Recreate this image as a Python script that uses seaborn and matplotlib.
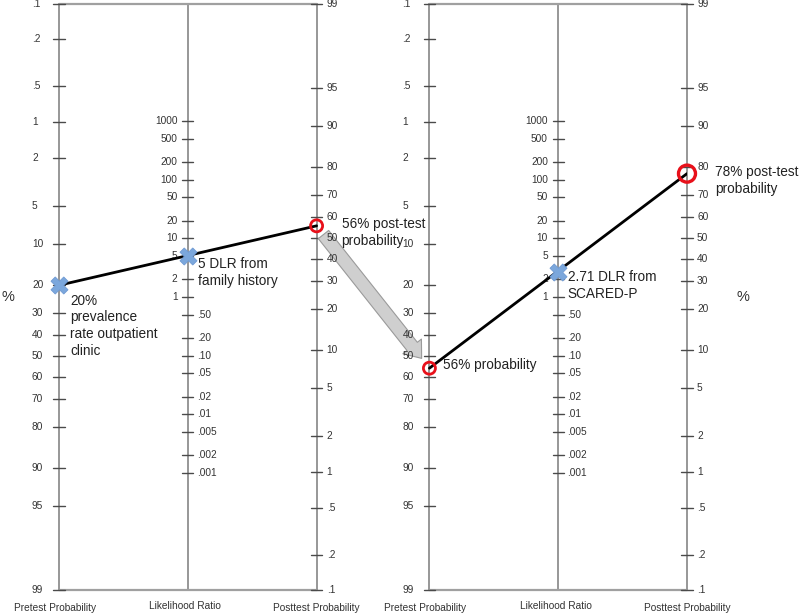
import numpy as np
import matplotlib
matplotlib.use('Agg')
import matplotlib.pyplot as plt
import seaborn as sns
from matplotlib.patches import FancyArrowPatch

# =============================================
# DATA
# =============================================
pretest_ticks = [0.1, 0.2, 0.5, 1, 2, 5, 10, 20, 30, 40, 50, 60, 70, 80, 90, 95, 99]
pretest_labels = ['.1', '.2', '.5', '1', '2', '5', '10', '20', '30', '40', '50',
                  '60', '70', '80', '90', '95', '99']
posttest_ticks = [99, 95, 90, 80, 70, 60, 50, 40, 30, 20, 10, 5, 2, 1, 0.5, 0.2, 0.1]
posttest_labels = ['99', '95', '90', '80', '70', '60', '50', '40', '30', '20', '10',
                   '5', '2', '1', '.5', '.2', '.1']
lr_ticks_hi = [1000, 500, 200, 100, 50, 20, 10, 5, 2, 1]
lr_labels_hi = ['1000', '500', '200', '100', '50', '20', '10', '5', '2', '1']
lr_ticks_lo = [0.5, 0.2, 0.1, 0.05, 0.02, 0.01, 0.005, 0.002, 0.001]
lr_labels_lo = ['.50', '.20', '.10', '.05', '.02', '.01', '.005', '.002', '.001']

# two steps of the nomogram
pretest_pct = [20, 56]
dlr = [5, 2.71]
posttest_pct = [56, 78]
pre_notes = ['20%\nprevalence\nrate outpatient\nclinic', '56% probability']
lr_notes = ['5 DLR from\nfamily history', '2.71 DLR from\nSCARED-P']
post_notes = ['56% post-test\nprobability', '78% post-test\nprobability']

# =============================================
# SCALES (Fagan nomogram)
# =============================================
def logit(p):
    return np.log(p / (1 - p))

TOP = -logit(0.001)          # pretest offset
BOT = logit(0.99)            # posttest offset
SPAN = TOP + BOT

def u_pre(pct):
    return logit(np.asarray(pct, dtype=float) / 100) + TOP

def u_post(pct):
    return BOT - logit(np.asarray(pct, dtype=float) / 100)

def u_lr(lr):
    return SPAN / 2 - np.log(np.asarray(lr, dtype=float)) / 2

# =============================================
# FIGURE
# =============================================
sns.set_style('white')
plt.rcParams['font.family'] = ['Liberation Sans', 'DejaVu Sans']

fig = plt.figure(figsize=(8, 6.16), dpi=100)
ax = fig.add_axes([0.07375, 0.0422, 0.785, 0.9513])
panel_x = [0.0, 2.876]
ax.set_xlim(0, 4.876)
ax.set_ylim(SPAN, 0)
ax.axis('off')

axis_col = '#858585'
tick_col = '#4a4a4a'
tl = 0.043
tfs = 7.3
nfs = 9.8

for k, x0 in enumerate(panel_x):
    xp, xl, xq = x0, x0 + 1, x0 + 2
    # frame
    for xx in (xp, xl, xq):
        ax.plot([xx, xx], [0, SPAN], color=axis_col, lw=1.2, clip_on=False, zorder=1)
    ax.plot([xp, xq], [0, 0], color='#a0a0a0', lw=1.6, clip_on=False, zorder=1)
    ax.plot([xp, xq], [SPAN, SPAN], color='#a0a0a0', lw=1.6, clip_on=False, zorder=1)

    # pretest scale
    for t, lab in zip(pretest_ticks, pretest_labels):
        u = u_pre(t)
        ax.plot([xp - tl, xp + tl], [u, u], color=tick_col, lw=1, clip_on=False)
        ax.text(xp - 0.21, u, lab, ha='left', va='center', fontsize=tfs, color='#333333')
    # likelihood ratio scale
    for t, lab in zip(lr_ticks_hi, lr_labels_hi):
        u = u_lr(t)
        ax.plot([xl - tl, xl + tl], [u, u], color=tick_col, lw=1)
        ax.text(xl - 0.08, u, lab, ha='right', va='center', fontsize=tfs, color='#333333')
    for t, lab in zip(lr_ticks_lo, lr_labels_lo):
        u = u_lr(t)
        ax.plot([xl - tl, xl + tl], [u, u], color=tick_col, lw=1)
        ax.text(xl + 0.07, u, lab, ha='left', va='center', fontsize=tfs, color='#333333')
    # posttest scale
    for t, lab in zip(posttest_ticks, posttest_labels):
        u = u_post(t)
        ax.plot([xq - tl, xq + tl], [u, u], color=tick_col, lw=1, clip_on=False)
        ax.text(xq + 0.078, u, lab, ha='left', va='center', fontsize=tfs, color='#333333')

    # axis titles
    ax.text(xp - 0.03, SPAN * 1.031, 'Pretest Probability', ha='center', va='center',
            fontsize=tfs, color='#333333')
    ax.text(xl - 0.02, SPAN * 1.027, 'Likelihood Ratio', ha='center', va='center',
            fontsize=tfs, color='#333333')
    ax.text(xq, SPAN * 1.031, 'Posttest Probability', ha='center', va='center',
            fontsize=tfs, color='#333333')

    # the line through pretest -> LR -> posttest
    pre_u = float(u_pre(pretest_pct[k]))
    post_u = float(u_post(posttest_pct[k]))
    sns.lineplot(x=[xp, xq], y=[pre_u, post_u], color='black', lw=2, ax=ax, zorder=3)

    lr_u = float(u_lr(dlr[k]))
    blue_x = [xp, xl] if k == 0 else [xl]
    blue_y = [pre_u, lr_u] if k == 0 else [lr_u]
    sns.scatterplot(x=blue_x, y=blue_y, marker='X', s=150, color='#7ba7dc',
                    edgecolor='#6f9ad3', linewidth=0.6, ax=ax, zorder=4, clip_on=False)
    if k == 0:
        sns.scatterplot(x=[xq], y=[post_u], marker='o', s=75, facecolor='none',
                        edgecolor='#e8101a', linewidth=2, ax=ax, zorder=5, clip_on=False)
    else:
        sns.scatterplot(x=[xp], y=[pre_u], marker='o', s=75, facecolor='none',
                        edgecolor='#e8101a', linewidth=2, ax=ax, zorder=5, clip_on=False)
        sns.scatterplot(x=[xq], y=[post_u], marker='o', s=150, facecolor='none',
                        edgecolor='#e8101a', linewidth=2.4, ax=ax, zorder=5, clip_on=False)

    # notes
    if k == 0:
        ax.annotate(pre_notes[0], (xp, pre_u), xytext=(8, -6), textcoords='offset points',
                    ha='left', va='top', fontsize=nfs, linespacing=1.25, color='#222222')
    else:
        ax.annotate(pre_notes[1], (xp, pre_u), xytext=(10, 2), textcoords='offset points',
                    ha='left', va='center', fontsize=nfs, color='#222222')
    ax.annotate(lr_notes[k], (xl, lr_u), xytext=(7, -1 if k == 0 else 1),
                textcoords='offset points', ha='left', va='top', fontsize=nfs,
                linespacing=1.25, color='#222222')
    ax.annotate(post_notes[k], (xq, post_u), xytext=(18 if k == 0 else 20, 6),
                textcoords='offset points', ha='left', va='top', fontsize=nfs,
                linespacing=1.2, color='#222222')

# '%' labels
ax.text(-0.396, SPAN / 2, '%', ha='center', va='center', fontsize=10.5, color='#333333')
ax.text(5.31, SPAN / 2, '%', ha='center', va='center', fontsize=10.5, color='#333333')

# gray block arrow carrying the posttest of step 1 to the pretest of step 2
arrow = FancyArrowPatch((panel_x[0] + 2, float(u_post(posttest_pct[0]))),
                        (panel_x[1], float(u_pre(pretest_pct[1]))),
                        arrowstyle='simple,head_width=1.7,head_length=1.1,tail_width=0.95',
                        mutation_scale=10, shrinkA=8, shrinkB=9,
                        facecolor='#cfcfcf', edgecolor='#9a9a9a', lw=0.8, zorder=2)
ax.add_patch(arrow)

fig.savefig('out.png', dpi=100)
